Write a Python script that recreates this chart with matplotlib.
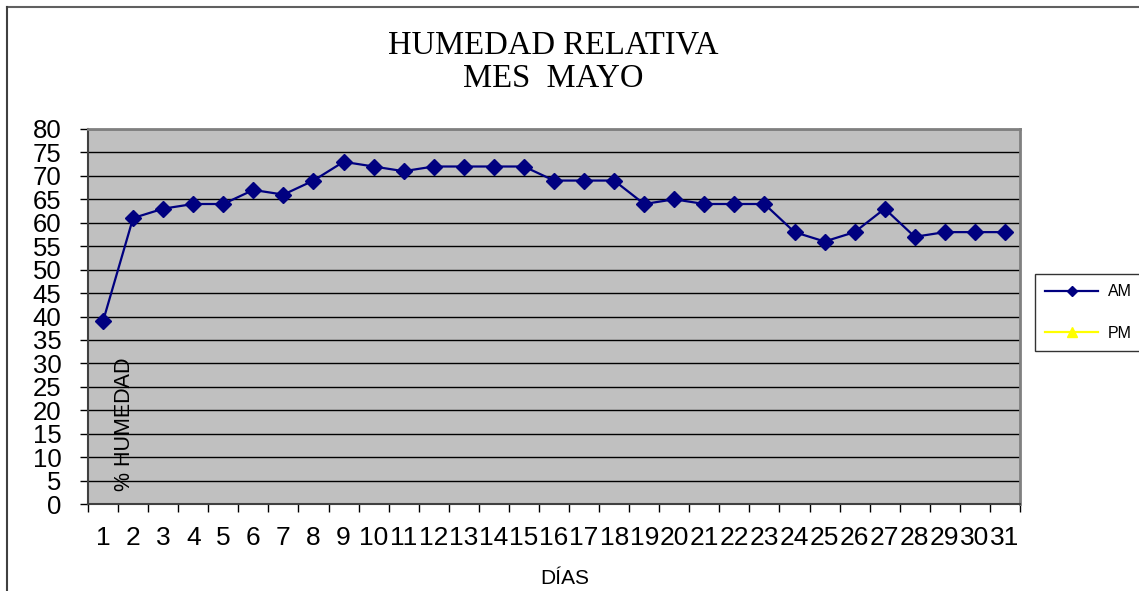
import matplotlib
matplotlib.use("Agg")
import matplotlib.pyplot as plt
from matplotlib.lines import Line2D
import numpy as np

days = list(range(1, 32))
am_values = [39, 61, 63, 64, 64, 67, 66, 69, 73, 72, 71, 72, 72, 72, 72, 69, 69, 69,
             64, 65, 64, 64, 64, 58, 56, 58, 63, 57, 58, 58, 58]
pm_values = []  # no PM data shown
y_ticks = list(range(0, 81, 5))
title_text = "HUMEDAD RELATIVA\nMES  MAYO"
x_label = "DÍAS"
y_label = "% HUMEDAD"

W, H = 1139, 591
fig = plt.figure(figsize=(W / 100, H / 100), dpi=100)
fig.patch.set_facecolor("white")

left, right, top, bottom = 88, 1020, 129, 504
ax = fig.add_axes([left / W, 1 - bottom / H, (right - left) / W, (bottom - top) / H])
ax.set_facecolor("#C0C0C0")

ax.set_xlim(0.5, len(days) + 0.5)
ax.set_ylim(0, 80)
ax.set_yticks(y_ticks)
ax.set_yticklabels([str(v) for v in y_ticks], fontsize=18.5, family="Liberation Sans")
ax.set_xticks(days)
ax.set_xticklabels([str(d) for d in days], fontsize=19, family="Liberation Sans")
ax.set_xticks(np.arange(0.5, len(days) + 1, 1.0), minor=True)
ax.tick_params(axis="x", which="major", length=0, pad=16)
ax.tick_params(axis="x", which="minor", length=6, width=1, color="black", direction="out")
ax.tick_params(axis="y", which="major", length=6, width=1, color="black", direction="out", pad=13)

ax.yaxis.grid(True, color="black", linewidth=1)
ax.set_axisbelow(True)
for s in ["top", "right"]:
    ax.spines[s].set_color("#808080")
    ax.spines[s].set_linewidth(2)
ax.spines["left"].set_color("#404040")
ax.spines["bottom"].set_color("#404040")
ax.spines["left"].set_linewidth(1.5)
ax.spines["bottom"].set_linewidth(1.5)

ax.plot(days, am_values, color="#000080", linewidth=1.6, marker="D", markersize=8,
        label="AM", zorder=3)
ax.plot(days[:len(pm_values)], pm_values, color="#FFFF00", linewidth=1.6, marker="^",
        markersize=8, label="PM")

ax.text((125 - left) / (right - left), (bottom - 424) / (bottom - top), y_label,
        rotation=90, fontsize=15.5, family="Liberation Sans", ha="center", va="center",
        transform=ax.transAxes)

fig.text(553 / W, 1 - 62 / H, title_text, fontsize=23.5, family="Liberation Serif",
         ha="center", va="center", linespacing=1.15)
fig.text(565 / W, 1 - 578 / H, x_label, fontsize=15, family="Liberation Sans",
         ha="center", va="center")

leg = fig.legend(handles=[
    Line2D([], [], color="#000080", linewidth=1.6, marker="D", markersize=5),
    Line2D([], [], color="#FFFF00", linewidth=1.6, marker="^", markersize=7)],
    labels=["AM", "PM"], loc="upper left",
    bbox_to_anchor=(1035 / W, 1 - 274 / H), prop={"family": "Liberation Sans", "size": 11.5},
    frameon=True, fancybox=False, shadow=False, handlelength=3.3, labelspacing=1.65,
    borderpad=0.65, handletextpad=0.6, borderaxespad=0)
leg.get_frame().set_edgecolor("black")
leg.get_frame().set_linewidth(1)

# outer chart-area border (top and left visible)
fig.add_artist(Line2D([7 / W, 1], [1 - 7 / H, 1 - 7 / H], transform=fig.transFigure,
                      color="#606060", linewidth=1.5))
fig.add_artist(Line2D([7 / W, 7 / W], [0, 1 - 7 / H], transform=fig.transFigure,
                      color="#404040", linewidth=1.5))

fig.savefig("out.png", dpi=100)
